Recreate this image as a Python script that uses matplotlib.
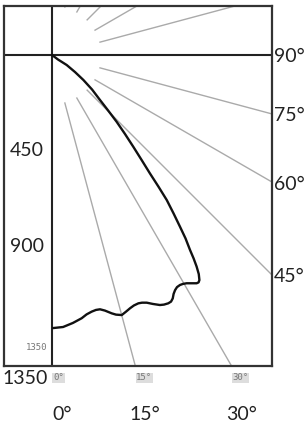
import numpy as np
import matplotlib
matplotlib.use("Agg")
import matplotlib.pyplot as plt

# ---- data ----
depth_ticks = [450, 900]
depth_max_label = 1350
bottom_angles = [0, 15, 30]
right_angles = [90, 75, 60, 45]
ray_angles_down = [15, 30, 45, 60, 75]
ray_angles_up = [105, 120, 135, 150, 165]
curve_x = [0, 28, 69, 108, 147, 188, 225, 263, 303, 342, 381, 420, 459, 499,
           538, 570, 600, 626, 647, 664, 678, 688, 691, 687, 678, 654, 631,
           614, 600, 586, 577, 570, 566, 558, 545, 525, 506, 473, 444, 422,
           405, 384, 366, 347, 327, 300, 280, 248, 225, 206, 186, 162, 139,
           98, 52, 5]
curve_depth = [0, 21, 47, 80, 117, 162, 211, 260, 313, 370, 430, 492, 555,
               617, 680, 743, 805, 860, 914, 954, 992, 1027, 1055, 1066, 1070,
               1070, 1070, 1073, 1078, 1088, 1102, 1120, 1141, 1156, 1164,
               1170, 1172, 1167, 1161, 1161, 1164, 1174, 1187, 1203, 1219,
               1217, 1211, 1198, 1192, 1195, 1203, 1216, 1234, 1256, 1275,
               1280]

# ---- layout ----
S = 4.6875  # data units per pixel
W, H = 306, 425
fig = plt.figure(figsize=(W / 100, H / 100), dpi=100)
ax = fig.add_axes([4 / W, (H - 366) / H, 268 / W, 360 / H])
x0, x1 = (4 - 52) * S, (272 - 52) * S
y0, y1 = (6 - 55) * S, (366 - 55) * S
ax.set_xlim(x0, x1)
ax.set_ylim(y1, y0)
ax.set_xticks([])
ax.set_yticks([])
for sp in ax.spines.values():
    sp.set_color("#333333")
    sp.set_linewidth(1.6)

FONT = "Lato"
TXT = "#222222"
FS = 14

# rays
r0 = 49 * S
R = 5000
for a in ray_angles_down + ray_angles_up:
    t = np.deg2rad(a)
    dx, dy = np.sin(t), np.cos(t)
    ax.plot([r0 * dx, R * dx], [r0 * dy, R * dy], color="#aaaaaa", lw=1.0,
            solid_capstyle="butt")

# main axis lines
ax.axvline(0, color="#222222", lw=1.5)
ax.axhline(0, color="#222222", lw=1.5)

# curve
ax.plot(curve_x, curve_depth, color="#111111", lw=1.7,
        solid_joinstyle="round", solid_capstyle="round")

# depth labels
for d in depth_ticks:
    ax.text(-8 * S, d, str(d), ha="right", va="center", fontsize=FS,
            family=FONT, color=TXT,
            bbox=dict(facecolor="white", edgecolor="none", pad=1.5))
ax.text(-4 * S, (379 - 55) * S, str(depth_max_label), ha="right", va="center",
        fontsize=FS, family=FONT, color=TXT, clip_on=False)
ax.text(-5 * S, (348 - 55) * S, str(depth_max_label), ha="right", va="center",
        fontsize=6.5, family="DejaVu Sans Mono", color="#777777")

# bottom angle labels
bottom_px = 366 - 55
for a in bottom_angles:
    xh = bottom_px * np.tan(np.deg2rad(a)) * S
    ax.text(xh + 1 * S, (378 - 55) * S, f"{a}°", ha="left", va="center",
            fontsize=6.5, family="DejaVu Sans Mono", color="#777777",
            clip_on=False,
            bbox=dict(facecolor="#dddddd", edgecolor="none", pad=0.6))
    ax.text(xh + 10 * S, (415 - 55) * S, f"{a}°", ha="center", va="center",
            fontsize=FS, family=FONT, color=TXT, clip_on=False)

# right angle labels
right_px = 272 - 52
for a in right_angles:
    yh = right_px / np.tan(np.deg2rad(a)) * S if a != 90 else 0.0
    ax.text(x1 + 2 * S, yh + 2 * S, f"{a}°", ha="left", va="center",
            fontsize=FS, family=FONT, color=TXT, clip_on=False)

fig.savefig("out.png", dpi=100)
